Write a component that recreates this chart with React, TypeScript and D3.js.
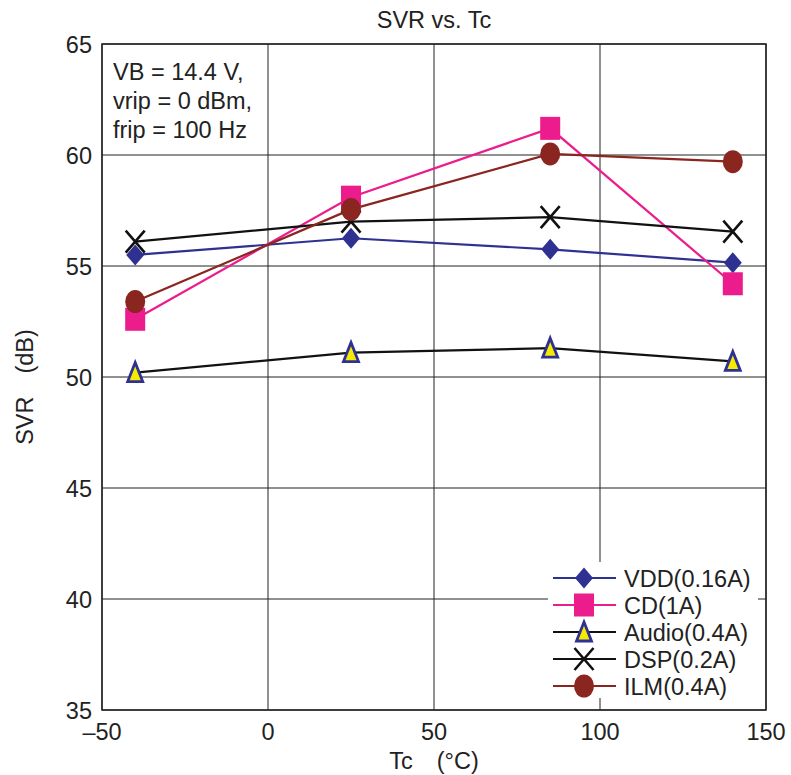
import React from "react";
import * as d3 from "d3";

const temps = [-40, 25, 85, 140];
const vdd = [55.5, 56.25, 55.75, 55.15];
const cd = [52.6, 58.1, 61.2, 54.2];
const audio = [50.2, 51.1, 51.3, 50.7];
const dsp = [56.1, 57.0, 57.2, 56.55];
const ilm = [53.4, 57.55, 60.05, 59.7];
const xTicks = [-50, 0, 50, 100, 150];
const yTicks = [35, 40, 45, 50, 55, 60, 65];
const seriesNames = ["VDD(0.16A)", "CD(1A)", "Audio(0.4A)", "DSP(0.2A)", "ILM(0.4A)"];
const noteLines = ["VB = 14.4 V,", "vrip = 0 dBm,", "frip = 100 Hz"];

const NAVY = "#2E3192";
const PINK = "#EC1C8C";
const RED = "#8B2520";
const FONT = "Liberation Sans, Arial, sans-serif";
const FS = 23.5;

type Kind = "diamond" | "square" | "triangle" | "x" | "circle";

function Marker({ kind, x, y }: { kind: Kind; x: number; y: number }) {
  if (kind === "diamond")
    return <path d={`M${x},${y - 10.5}L${x + 9},${y}L${x},${y + 10.5}L${x - 9},${y}Z`} fill={NAVY} />;
  if (kind === "square")
    return <rect x={x - 10} y={y - 11.5} width={20} height={23} fill={PINK} />;
  if (kind === "triangle")
    return (
      <path
        d={`M${x},${y - 10}L${x + 7.5},${y + 9}L${x - 7.5},${y + 9}Z`}
        fill="#F5EB00"
        stroke={NAVY}
        strokeWidth={2.8}
        strokeLinejoin="miter"
      />
    );
  if (kind === "x")
    return (
      <path
        d={`M${x - 9.5},${y - 11}L${x + 9.5},${y + 11}M${x + 9.5},${y - 11}L${x - 9.5},${y + 11}`}
        stroke="#111"
        strokeWidth={2.6}
        fill="none"
      />
    );
  return <ellipse cx={x} cy={y} rx={10} ry={11.5} fill={RED} />;
}

export default function App() {
  const W = 791, H = 775;
  const left = 102, right = 766, top = 44, bottom = 710;
  const x = d3.scaleLinear().domain([-50, 150]).range([left, right]);
  const y = d3.scaleLinear().domain([35, 65]).range([bottom, top]);

  const series: { name: string; vals: number[]; color: string; kind: Kind }[] = [
    { name: seriesNames[0], vals: vdd, color: NAVY, kind: "diamond" },
    { name: seriesNames[1], vals: cd, color: PINK, kind: "square" },
    { name: seriesNames[2], vals: audio, color: "#111", kind: "triangle" },
    { name: seriesNames[3], vals: dsp, color: "#111", kind: "x" },
    { name: seriesNames[4], vals: ilm, color: RED, kind: "circle" },
  ];
  const line = d3
    .line<number>()
    .x((_, i) => x(temps[i]))
    .y((v) => y(v));

  const fmt = (t: number) => (t < 0 ? "\u2013" + Math.abs(t) : String(t));

  const legX = 548, legY = 562, legW = 210, legH = 136;
  const rowH = 27;

  return (
    <svg width={W} height={H} style={{ display: "block", position: "absolute", left: 0, top: 0 }} fontFamily={FONT}>
      <rect width={W} height={H} fill="#fff" />
      <text x={434} y={28} textAnchor="middle" fontSize={FS} fill="#222">SVR vs. Tc</text>
      {/* grid */}
      {xTicks.map((t) => (
        <line key={"gx" + t} x1={x(t)} x2={x(t)} y1={top} y2={bottom} stroke="#222" strokeWidth={1} />
      ))}
      {yTicks.map((t) => (
        <line key={"gy" + t} x1={left} x2={right} y1={y(t)} y2={y(t)} stroke="#222" strokeWidth={1} />
      ))}
      {/* tick labels */}
      {yTicks.map((t) => (
        <text key={"ly" + t} x={left - 10} y={y(t) + 8.5} textAnchor="end" fontSize={FS} fill="#222">
          {t}
        </text>
      ))}
      {xTicks.map((t) => (
        <text key={"lx" + t} x={x(t)} y={740} textAnchor="middle" fontSize={FS} fill="#222">
          {fmt(t)}
        </text>
      ))}
      <text x={434} y={769} textAnchor="middle" fontSize={FS} fill="#222">
        <tspan>Tc</tspan>
        <tspan dx={24}>(°C)</tspan>
      </text>
      <text transform={`translate(33,387) rotate(-90)`} textAnchor="middle" fontSize={FS} fill="#222">
        <tspan>SVR</tspan>
        <tspan dx={23}>(dB)</tspan>
      </text>
      {/* note */}
      {noteLines.map((s, i) => (
        <text key={s} x={113} y={80 + i * 29} fontSize={FS} fill="#222">
          {s}
        </text>
      ))}
      {/* series */}
      {series.map((s) => (
        <path key={"l" + s.name} d={line(s.vals) || ""} fill="none" stroke={s.color} strokeWidth={2.2} />
      ))}
      {series.map((s) =>
        s.vals.map((v, i) => <Marker key={s.name + i} kind={s.kind} x={x(temps[i])} y={y(v)} />)
      )}
      {/* legend */}
      <rect x={legX} y={legY} width={legW} height={legH} fill="#fff" />
      {series.map((s, i) => {
        const cy = legY + 16 + i * rowH;
        return (
          <g key={"lg" + s.name}>
            <line x1={553} x2={616} y1={cy} y2={cy} stroke={s.color} strokeWidth={2.2} />
            <Marker kind={s.kind} x={584} y={cy} />
            <text x={624} y={cy + 8.5} fontSize={FS} fill="#222">
              {s.name}
            </text>
          </g>
        );
      })}
      {/* frame */}
      <rect x={left} y={top} width={right - left} height={bottom - top} fill="none" stroke="#222" strokeWidth={1.5} />
    </svg>
  );
}
